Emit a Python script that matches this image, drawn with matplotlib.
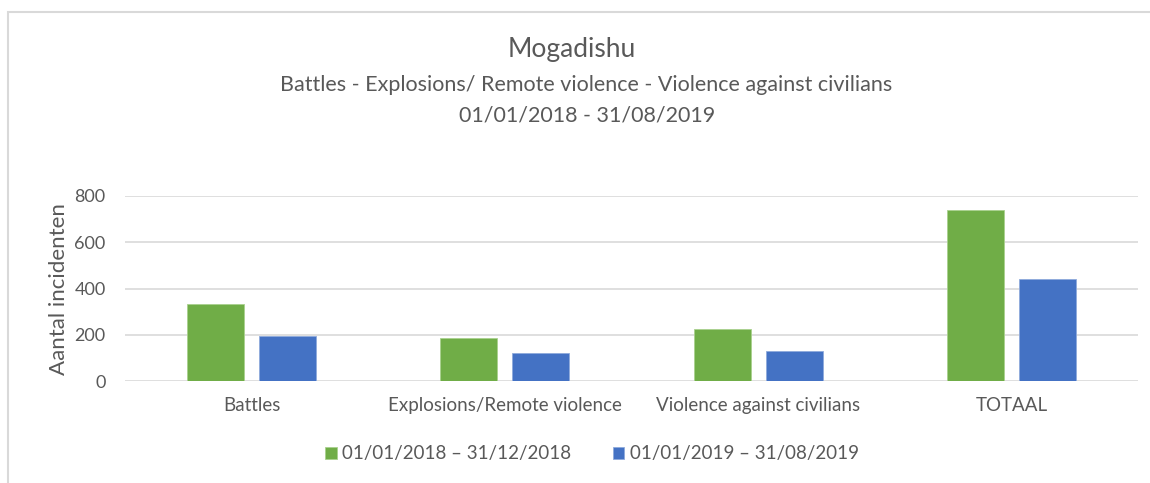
import matplotlib.pyplot as plt
import numpy as np
from matplotlib.patches import Rectangle

# data
categories = ["Battles", "Explosions/Remote violence", "Violence against civilians", "TOTAAL"]
period_2018 = [332, 187, 226, 741]
period_2019 = [197, 121, 130, 443]
series_labels = ["01/01/2018 \u2013 31/12/2018", "01/01/2019 \u2013 31/08/2019"]
y_ticks = [0, 200, 400, 600, 800]

GREEN = "#70AD47"
BLUE = "#4472C4"
TXT = "#595959"

plt.rcParams['font.family'] = ['Lato', 'DejaVu Sans']

fig = plt.figure(figsize=(11.5, 4.83), dpi=100)
ax = fig.add_axes([125 / 1150, 1 - 381.3 / 483, (1138 - 125) / 1150, (381.3 - 196) / 483])

x = np.arange(len(categories))
w = 0.225
off = 0.1425
ax.bar(x - off, period_2018, w, color=GREEN, edgecolor="#a9d18e", linewidth=0.6,
       label=series_labels[0], zorder=3)
ax.bar(x + off, period_2019, w, color=BLUE, edgecolor="#8faadc", linewidth=0.6,
       label=series_labels[1], zorder=3)

ax.set_xlim(-0.5, len(categories) - 0.5)
ax.set_ylim(0, 800)
ax.set_yticks(y_ticks)
ax.yaxis.grid(True, color="#d9d9d9", linewidth=1.2, zorder=0)
ax.set_axisbelow(True)
for s in ["top", "right", "left", "bottom"]:
    ax.spines[s].set_visible(False)
ax.tick_params(axis="both", length=0, colors=TXT)
ax.tick_params(axis="y", pad=14, labelsize=13)
ax.tick_params(axis="x", pad=11, labelsize=13.5)
ax.set_xticks(x)
ax.set_xticklabels(categories)
ax.set_ylabel("Aantal incidenten", color=TXT, fontsize=16, labelpad=4)

fig.text(572 / 1150, 1 - 50 / 483, "Mogadishu", ha="center", va="center", fontsize=19, color=TXT)
fig.text(586 / 1150, 1 - 85 / 483, "Battles - Explosions/ Remote violence - Violence against civilians",
         ha="center", va="center", fontsize=15.5, color=TXT)
fig.text(587 / 1150, 1 - 115 / 483, "01/01/2018 - 31/08/2019", ha="center", va="center",
         fontsize=15.5, color=TXT)

leg = fig.legend(loc="center", bbox_to_anchor=(592 / 1150, 1 - 454 / 483), ncol=2,
                 frameon=False, fontsize=13.5, handlelength=0.6, handleheight=0.6,
                 handletextpad=0.3, columnspacing=2.2)
for t in leg.get_texts():
    t.set_color(TXT)

# chart frame (cut off on the right and bottom)
fig.patches.append(Rectangle((8 / 1150, -0.1), 1.2, 1 - 12 / 483 + 0.1,
                             transform=fig.transFigure, fill=False,
                             edgecolor="#d9d9d9", linewidth=1.5))

fig.savefig("out.png", dpi=100)
